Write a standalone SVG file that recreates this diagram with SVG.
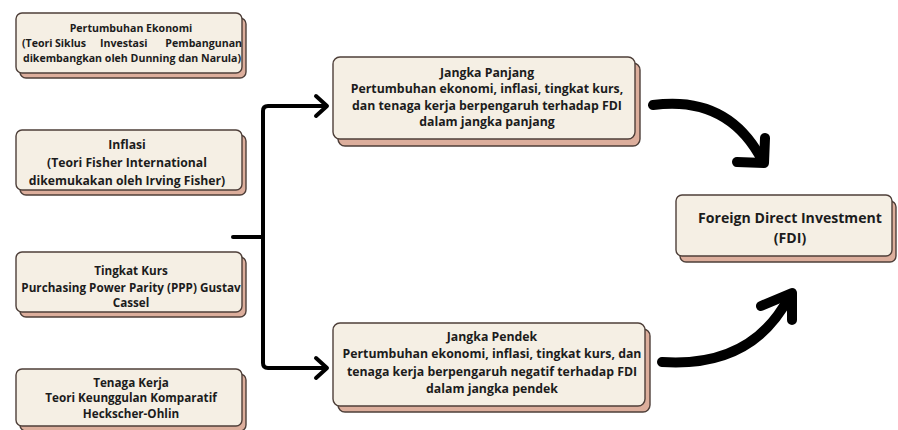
<svg xmlns="http://www.w3.org/2000/svg" width="898" height="430" viewBox="0 0 898 430">
<style>
.sh{fill:#dcae9c;stroke:#4e3f39;stroke-width:1.4}
.fr{fill:#f5efe4;stroke:#4e3f39;stroke-width:1.4}
text{font-family:"Open Sans","Noto Sans","DejaVu Sans",sans-serif;font-weight:700;fill:#1c1c1c}
.c{text-anchor:middle}
.s1{font-size:10.6px}
.s2{font-size:12.2px}
.s3{font-size:11.7px}
.s4{font-size:12.3px}
.s5{font-size:14.1px}
.ln{fill:none;stroke:#000;stroke-width:4;stroke-linecap:round;stroke-linejoin:round}
.br{fill:none;stroke:#000;stroke-width:10;stroke-linecap:round;stroke-linejoin:round}
</style>
<rect width="898" height="430" fill="#ffffff"/>

<g id="pertumbuhan">
<rect class="sh" x="20" y="18" width="226" height="60" rx="6"/>
<rect class="fr" x="16" y="13" width="226" height="60" rx="6"/>
<text class="s1 c" x="131" y="32">Pertumbuhan Ekonomi</text>
<text class="s1" y="47"><tspan x="22">(Teori</tspan><tspan x="55">Siklus</tspan><tspan x="100">Investasi</tspan></text>
<text class="s1" x="242" y="47" text-anchor="end">Pembangunan</text>
<text class="s1 c" x="132" y="62">dikembangkan oleh Dunning dan Narula)</text>
</g>

<g id="inflasi">
<rect class="sh" x="20" y="135" width="226" height="60" rx="6"/>
<rect class="fr" x="16" y="130" width="226" height="60" rx="6"/>
<text class="s2 c" x="127" y="149">Inflasi</text>
<text class="s2 c" x="127" y="167">(Teori Fisher International</text>
<text class="s2 c" x="127" y="185">dikemukakan oleh Irving Fisher)</text>
</g>

<g id="kurs">
<rect class="sh" x="20" y="257" width="226" height="60" rx="6"/>
<rect class="fr" x="16" y="252" width="226" height="60" rx="6"/>
<text class="s3 c" x="131" y="275">Tingkat Kurs</text>
<text class="s3 c" x="131" y="292">Purchasing Power Parity (PPP) Gustav</text>
<text class="s3 c" x="131" y="307">Cassel</text>
</g>

<g id="tenaga">
<rect class="sh" x="20" y="374" width="226" height="57" rx="6"/>
<rect class="fr" x="16" y="369" width="226" height="57" rx="6"/>
<text class="s3 c" x="131" y="387">Tenaga Kerja</text>
<text class="s3 c" x="131" y="402">Teori Keunggulan Komparatif</text>
<text class="s3 c" x="131" y="418">Heckscher-Ohlin</text>
</g>

<g id="panjang">
<rect class="sh" x="338" y="63" width="302" height="83" rx="7"/>
<rect class="fr" x="333" y="57" width="302" height="82" rx="7"/>
<text class="s4 c" x="487" y="77">Jangka Panjang</text>
<text class="s4 c" x="487" y="93">Pertumbuhan ekonomi, inflasi, tingkat kurs,</text>
<text class="s4 c" x="487" y="110">dan tenaga kerja berpengaruh terhadap FDI</text>
<text class="s4 c" x="487" y="126">dalam jangka panjang</text>
</g>

<g id="pendek">
<rect class="sh" x="338" y="329" width="312" height="83" rx="7"/>
<rect class="fr" x="333" y="323" width="312" height="83" rx="7"/>
<text class="s4 c" x="492" y="341">Jangka Pendek</text>
<text class="s4 c" x="492" y="358">Pertumbuhan ekonomi, inflasi, tingkat kurs, dan</text>
<text class="s4 c" x="492" y="376">tenaga kerja berpengaruh negatif terhadap FDI</text>
<text class="s4 c" x="492" y="393">dalam jangka pendek</text>
</g>

<g id="fdi">
<rect class="sh" x="680" y="201" width="216" height="61" rx="6"/>
<rect class="fr" x="676" y="195" width="216" height="61" rx="6"/>
<text class="s5 c" x="790" y="223">Foreign Direct Investment</text>
<text class="s5 c" x="790" y="243">(FDI)</text>
</g>

<g id="connectors">
<path class="ln" d="M233,237 H263"/>
<path class="ln" d="M324,106 H268 Q263,106 263,111 V363 Q263,368 268,368 H324"/>
<polyline class="ln" points="316,96 327,106 316,116"/>
<polyline class="ln" points="316,358 327,368 316,378"/>
<path class="br" d="M653,105 Q728,95 762,160"/>
<polyline class="br" points="765,138 764,163 737,162"/>
<path class="br" d="M662,362 Q752,368 789,297"/>
<polyline class="br" points="761,306 792,293 792,320"/>
</g>
</svg>
